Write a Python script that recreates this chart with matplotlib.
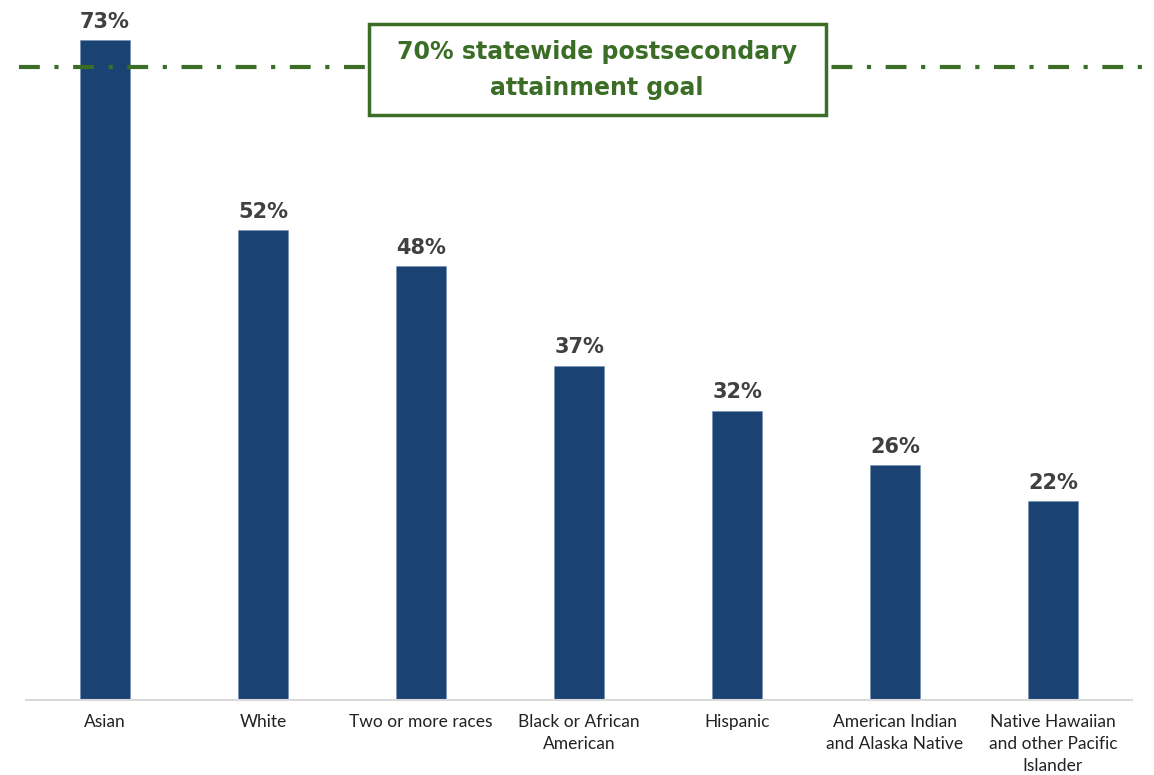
import matplotlib
matplotlib.use("Agg")
import matplotlib.pyplot as plt
import matplotlib.transforms as mtransforms
from matplotlib.patches import Rectangle

categories = [
    "Asian",
    "White",
    "Two or more races",
    "Black or African\nAmerican",
    "Hispanic",
    "American Indian\nand Alaska Native",
    "Native Hawaiian\nand other Pacific\nIslander",
]
attainment = [73, 52, 48, 37, 32, 26, 22]
goal = 70
goal_text = "70% statewide postsecondary\nattainment goal"

bar_color = "#1a4373"
goal_color = "#3b6d27"

W, H = 1154, 775
fig = plt.figure(figsize=(W / 100, H / 100), dpi=100)
ax = fig.add_axes([26 / W, (H - 700) / H, 1106 / W, 700 / H])

x = list(range(len(categories)))
ax.bar(x, attainment, width=0.32, color=bar_color, edgecolor="#6f8fb3", linewidth=0.4, zorder=2)

for xi, v in zip(x, attainment):
    ax.annotate(f"{v}%", (xi, v), xytext=(0, 6), textcoords="offset points",
                ha="center", va="bottom", fontsize=15, fontweight="bold",
                color="#404040", family="DejaVu Sans")

ax.set_xlim(-0.5, len(categories) - 0.5)
ax.set_ylim(0, 700 / 9.04)
ax.set_xticks(x)
ax.set_xticklabels(categories, fontsize=12.5, color="#222222", family="Lato",
                   linespacing=1.45)
ax.tick_params(axis="x", length=0, pad=10)
ax.set_yticks([])
for side in ["top", "right", "left"]:
    ax.spines[side].set_visible(False)
ax.spines["bottom"].set_color("#d9d9d9")
ax.spines["bottom"].set_linewidth(1.5)

# statewide goal line
trans = mtransforms.blended_transform_factory(ax.transAxes, ax.transData)
ax.plot([-0.006, 1.01], [goal, goal], transform=trans, color=goal_color,
        linewidth=3.0, linestyle=(0, (5, 3.5, 1, 3.5)), solid_capstyle="butt",
        dash_capstyle="butt", clip_on=False, zorder=3)

# goal label box
ax.add_patch(Rectangle((343 / 1106, 585 / 700), 457 / 1106, 91 / 700,
                       transform=ax.transAxes, facecolor="white",
                       edgecolor=goal_color, linewidth=2.5, zorder=4,
                       clip_on=False))
ax.text((597 - 26) / 1106, (700 - 70) / 700, goal_text, transform=ax.transAxes,
        ha="center", va="center", fontsize=17, fontweight="bold",
        color=goal_color, family="DejaVu Sans", linespacing=1.6, zorder=5)

fig.savefig("out.png", dpi=100)
